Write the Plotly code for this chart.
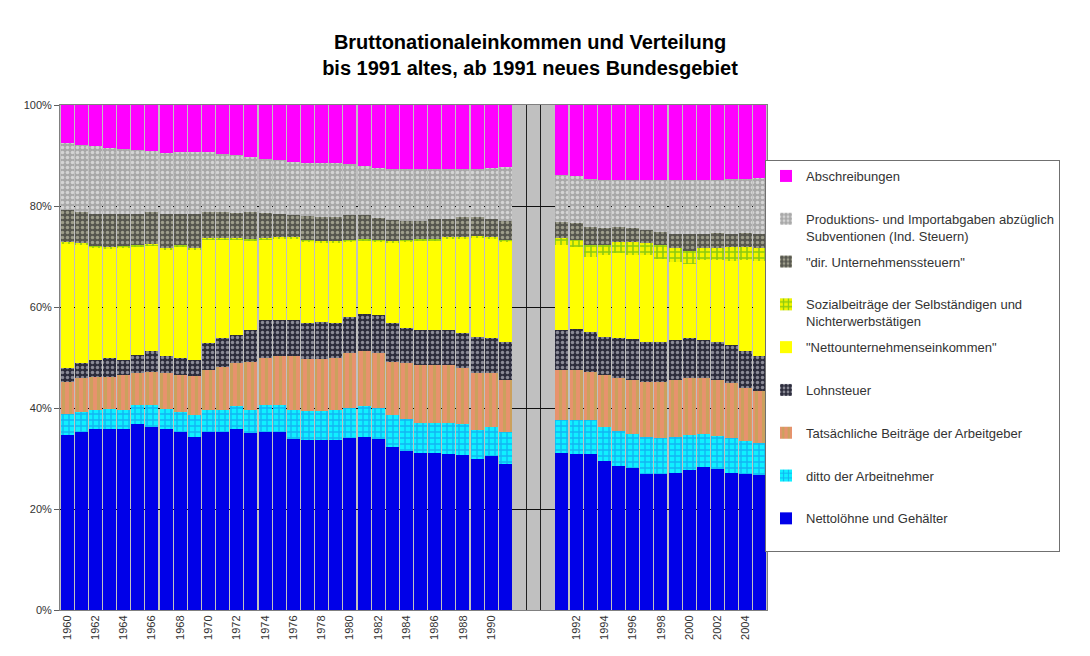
import plotly.graph_objects as go

# ---------------- data (shares in % of Bruttonationaleinkommen) ----------------
years_old = list(range(1960, 1992))   # altes Bundesgebiet 1960-1991
years_new = list(range(1991, 2006))   # neues Bundesgebiet 1991-2005
n_gap = 3                               # empty separator slots

nettoloehne_old = [34.7, 35.3, 35.8, 35.8, 35.8, 36.8, 36.3, 35.8, 35.3, 34.3, 35.3, 35.3, 35.8, 35.0, 35.3, 35.3,
                   33.8, 33.7, 33.7, 33.7, 34.1, 34.3, 33.8, 32.3, 31.5, 31.0, 31.0, 30.9, 30.7, 29.9, 30.4, 29.0]
nettoloehne_new = [31.0, 30.9, 30.9, 29.5, 28.5, 28.2, 26.9, 26.9, 27.1, 27.7, 28.3, 27.9, 27.2, 27.0, 26.7]

ditto_an_old = [4.2, 4.0, 3.9, 4.1, 3.8, 3.8, 4.3, 4.1, 4.0, 4.3, 4.4, 4.4, 4.5, 4.7, 5.3, 5.3,
                5.9, 5.8, 5.8, 5.9, 6.0, 6.1, 6.3, 6.3, 6.3, 6.0, 6.0, 6.1, 6.2, 5.7, 5.9, 6.3]
ditto_an_new = [6.6, 6.7, 6.7, 6.8, 7.0, 6.7, 7.3, 7.1, 7.1, 7.0, 6.6, 6.6, 6.8, 6.5, 6.4]

arbeitgeber_old = [6.3, 6.6, 6.5, 6.3, 6.9, 6.3, 6.6, 7.0, 7.2, 7.7, 7.8, 8.5, 8.6, 9.5, 9.3, 9.6,
                   10.5, 10.3, 10.3, 10.4, 10.8, 10.8, 10.8, 10.6, 11.1, 11.6, 11.6, 11.6, 11.0, 11.3, 10.6, 10.2]
arbeitgeber_new = [9.9, 9.9, 9.6, 10.2, 10.4, 10.6, 11.0, 11.2, 11.3, 11.2, 11.0, 11.0, 10.9, 10.4, 10.3]

lohnsteuer_old = [2.7, 3.0, 3.3, 3.8, 3.0, 3.6, 4.0, 3.3, 3.4, 3.2, 5.3, 5.6, 5.6, 6.2, 7.5, 7.2,
                  7.2, 7.1, 7.3, 6.8, 7.2, 7.5, 7.5, 7.6, 6.9, 6.8, 6.9, 6.8, 6.9, 7.2, 6.9, 7.6]
lohnsteuer_new = [7.9, 8.1, 7.9, 7.6, 7.9, 8.1, 7.9, 7.9, 8.0, 7.9, 7.6, 7.6, 7.6, 7.3, 6.8]

nettounternehmen_old = [24.6, 23.3, 22.1, 21.5, 22.1, 21.3, 20.9, 21.0, 21.9, 21.7, 20.4, 19.4, 18.7, 17.6, 15.8, 16.0,
                        16.1, 16.0, 15.5, 15.9, 14.8, 14.3, 14.5, 15.9, 17.1, 17.6, 17.6, 18.1, 18.7, 19.5, 19.6, 19.8]
nettounternehmen_new = [16.9, 16.3, 14.9, 16.2, 16.8, 16.7, 17.2, 16.5, 15.4, 14.8, 15.8, 16.2, 16.7, 18.1, 19.0]

sozialbeitraege_old = [0.4, 0.4, 0.4, 0.4, 0.4, 0.4, 0.4, 0.4, 0.4, 0.4, 0.4, 0.4, 0.4, 0.4, 0.4, 0.4,
                       0.4, 0.4, 0.4, 0.4, 0.4, 0.4, 0.4, 0.4, 0.4, 0.4, 0.4, 0.4, 0.4, 0.4, 0.4, 0.4]
sozialbeitraege_new = [1.3, 1.4, 2.3, 2.0, 2.3, 2.6, 2.3, 2.7, 2.7, 2.4, 2.3, 2.3, 2.7, 2.6, 2.4]

unternehmenssteuern_old = [6.3, 6.3, 6.5, 6.6, 6.4, 6.3, 6.4, 6.9, 6.2, 6.8, 5.3, 5.3, 5.1, 5.5, 5.1, 4.7,
                           4.3, 4.7, 4.9, 4.8, 4.9, 4.8, 4.3, 4.1, 3.8, 3.7, 3.9, 3.5, 4.0, 3.9, 3.6, 3.8]
unternehmenssteuern_new = [3.3, 3.3, 3.6, 3.3, 3.0, 2.7, 2.6, 2.6, 2.9, 3.4, 2.9, 3.0, 2.6, 2.7, 2.9]

produktionsabgaben_old = [13.2, 13.2, 13.3, 12.9, 12.8, 12.6, 11.9, 11.9, 12.2, 12.2, 11.7, 11.4, 11.4, 10.9, 10.7, 10.6,
                          10.6, 10.6, 10.6, 10.6, 10.1, 9.8, 9.9, 10.1, 10.2, 10.2, 9.9, 9.9, 9.4, 9.4, 10.1, 10.6]
produktionsabgaben_new = [9.2, 9.3, 9.4, 9.5, 9.2, 9.5, 9.9, 10.2, 10.6, 10.7, 10.6, 10.5, 10.8, 10.7, 11.0]

abschreibungen_old = [7.6, 7.9, 8.2, 8.6, 8.8, 8.9, 9.2, 9.6, 9.4, 9.4, 9.4, 9.7, 9.9, 10.2, 10.6, 10.9,
                      11.2, 11.4, 11.5, 11.5, 11.7, 12.0, 12.5, 12.7, 12.7, 12.7, 12.7, 12.7, 12.7, 12.7, 12.5, 12.3]
abschreibungen_new = [13.9, 14.1, 14.7, 14.9, 14.9, 14.9, 14.9, 14.9, 14.9, 14.9, 14.9, 14.9, 14.7, 14.7, 14.5]

y_ticks = [0, 20, 40, 60, 80, 100]

# ---------------- category layout ----------------
tick_labels = [str(y) for y in years_old] + [""] * n_gap + [str(y) for y in years_new]
n_cat = len(tick_labels)
x_pos = list(range(n_cat))
gap_idx = list(range(len(years_old), len(years_old) + n_gap))


def full(old, new):
    return list(old) + [None] * n_gap + list(new)


# series in stacking order (bottom -> top): name, old, new, fill definition
series = [
    ("Nettolöhne und Gehälter", nettoloehne_old, nettoloehne_new,
     dict(color="#0000E8")),
    ("ditto der Arbeitnehmer", ditto_an_old, ditto_an_new,
     dict(color="#00FFFF", pattern=dict(shape="+", fgcolor="#1478E6", bgcolor="#10F0FF",
                                        size=6, solidity=0.4))),
    ("Tatsächliche Beiträge der Arbeitgeber", arbeitgeber_old, arbeitgeber_new,
     dict(color="#D49A6A", pattern=dict(shape="|", fgcolor="#AEB04C", bgcolor="#E8926E",
                                        size=7, solidity=0.45))),
    ("Lohnsteuer", lohnsteuer_old, lohnsteuer_new,
     dict(color="#303040", pattern=dict(shape=".", fgcolor="#E8E8F0", bgcolor="#2C2C3C",
                                        size=5, solidity=0.38))),
    ("\"Nettounternehmenseinkommen\"", nettounternehmen_old, nettounternehmen_new,
     dict(color="#FFFF00")),
    ("Sozialbeiträge der Selbständigen und<br>Nichterwerbstätigen", sozialbeitraege_old, sozialbeitraege_new,
     dict(color="#FFFF00", pattern=dict(shape="+", fgcolor="#20A020", bgcolor="#F4F400",
                                        size=6, solidity=0.45))),
    ("\"dir. Unternehmenssteuern\"", unternehmenssteuern_old, unternehmenssteuern_new,
     dict(color="#5A5A50", pattern=dict(shape=".", fgcolor="#E4E4C8", bgcolor="#56564E",
                                        size=5, solidity=0.38))),
    ("Produktions- und Importabgaben abzüglich<br>Subventionen (Ind. Steuern)",
     produktionsabgaben_old, produktionsabgaben_new,
     dict(color="#C0C0C0", pattern=dict(shape=".", fgcolor="#FFFFFF", bgcolor="#A8A8A8",
                                        size=5, solidity=0.4))),
    ("Abschreibungen", abschreibungen_old, abschreibungen_new,
     dict(color="#FF00FF")),
]

fig = go.Figure()
n_series = len(series)
for i, (name, old, new, mk) in enumerate(series):
    label = name if "<br>" in name else name + "<br> "
    fig.add_trace(go.Bar(
        x=x_pos, y=full(old, new), name=label, legendgroup=f"g{i}",
        legendrank=n_series - i,
        marker=dict(line=dict(width=0), **mk),
        hovertemplate=name.replace("<br>", " ") + ": %{y:.1f}%<extra></extra>",
    ))

# the page body adds an 8 px offset; positions below are compensated for it
fig.update_layout(
    width=1090, height=656,
    barmode="stack", barnorm="percent", bargap=0.08,
    paper_bgcolor="white", plot_bgcolor="#C0C0C0",
    margin=dict(l=52, r=331, t=97, b=54, autoexpand=False),
    font=dict(family="Liberation Sans, Arial, sans-serif", color="#222222"),
    title=dict(
        text="<b>Bruttonationaleinkommen und Verteilung</b><br><b>bis 1991 altes, ab 1991 neues Bundesgebiet</b>",
        x=522 / 1090, xanchor="center", xref="container",
        y=1 - 41 / 656, yanchor="middle", yref="container",
        font=dict(size=20, family="Liberation Sans, Arial, sans-serif", color="#000000"),
    ),
    legend=dict(
        xref="container", yref="container",
        x=757 / 1090, xanchor="left", y=1 - 152 / 656, yanchor="top",
        traceorder="grouped", tracegroupgap=6, valign="top",
        itemwidth=30, maxheight=420,
        bordercolor="#707070", borderwidth=1, bgcolor="white",
        font=dict(size=13, color="#333333"),
    ),
    showlegend=True,
)

fig.update_xaxes(
    range=[-0.5, n_cat - 0.5],
    tickmode="array", tickvals=x_pos[::2], ticktext=tick_labels[::2],
    tickangle=-90, tickfont=dict(size=11, color="#333333"),
    showgrid=False, zeroline=False,
    showline=True, linecolor="#808080", mirror=True,
    minor=dict(tickvals=[g - 0.5 for g in gap_idx[1:]], showgrid=True, gridcolor="#202020", gridwidth=1),
)
fig.update_yaxes(
    range=[0, 100], tickmode="array", tickvals=y_ticks, ticktext=[f"{v}%" for v in y_ticks],
    tickfont=dict(size=11, color="#333333"),
    showgrid=True, gridcolor="#101010", gridwidth=1, zeroline=False,
    ticks="outside", ticklen=5, tickcolor="#606060",
    showline=True, linecolor="#808080", mirror=True,
)

fig.write_html("out.html")
